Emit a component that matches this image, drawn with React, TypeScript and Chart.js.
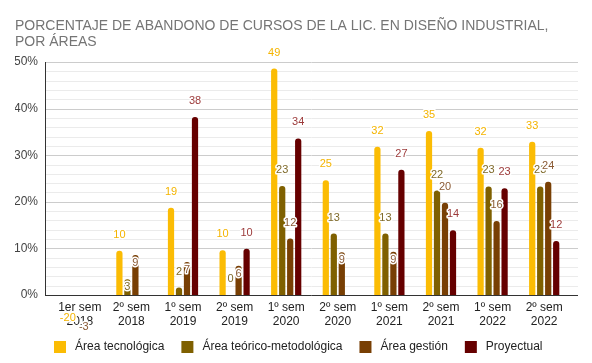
import React, { useEffect, useRef } from "react";
import { Chart, registerables } from "chart.js";

Chart.register(...registerables);

const titleLines = [
  "PORCENTAJE DE ABANDONO DE CURSOS DE LA LIC. EN DISEÑO INDUSTRIAL,",
  "POR ÁREAS",
];

const categories = [
  ["1er sem", "2018"],
  ["2º sem", "2018"],
  ["1º sem", "2019"],
  ["2º sem", "2019"],
  ["1º sem", "2020"],
  ["2º sem", "2020"],
  ["1º sem", "2021"],
  ["2º sem", "2021"],
  ["1º sem", "2022"],
  ["2º sem", "2022"],
];

const seriesNames = [
  "Área tecnológica",
  "Área teórico-metodológica",
  "Área gestión",
  "Proyectual",
];

const areaTecnologica = [-20, 9.5, 18.7, 9.6, 48.6, 24.6, 31.8, 35.2, 31.6, 32.9];
const areaTeorico = [null, 3.4, 1.6, 0, 23.4, 13.2, 13.2, 22.4, 23.3, 23.3];
const areaGestion = [-3, 8.6, 7.1, 6.3, 12.1, 9.2, 9.3, 19.8, 15.9, 24.3];
const proyectual = [null, null, 38.2, 9.9, 33.6, null, 26.9, 13.9, 22.9, 11.6];

const yTickValues = { min: 0, max: 50, step: 2, major: 10 };

const barColors = ["#fbbc04", "#7f6000", "#783f04", "#660000"];
const labelColors = ["#f4b400", "#7f6a2a", "#8a5a34", "#9c3a3a"];
// labels that sit inside the top of their bar (series-category)
const insideLabels = ["1-1", "2-1", "2-2", "2-3", "2-5", "2-6"];

const FONT = "Arial, 'Liberation Sans', sans-serif";

export default function App() {
  const ref = useRef<HTMLCanvasElement>(null);

  useEffect(() => {
    if (!ref.current) return;

    const gridPlugin = {
      id: "gridExt",
      beforeDatasetsDraw(chart: any) {
        const { ctx, chartArea, scales } = chart;
        const y = scales.y;
        const l = chartArea.left - 9;
        const r = chartArea.right + 8;
        ctx.save();
        ctx.lineWidth = 1;
        y.ticks.forEach((t: any) => {
          const py = Math.round(y.getPixelForValue(t.value)) + 0.5;
          ctx.strokeStyle = t.value % yTickValues.major === 0 ? "#cccccc" : "#ebebeb";
          ctx.beginPath();
          ctx.moveTo(l, py);
          ctx.lineTo(r, py);
          ctx.stroke();
        });
        ctx.restore();
      },
      afterDatasetsDraw(chart: any) {
        const { ctx, chartArea, scales } = chart;
        const y = scales.y;
        const l = chartArea.left - 9;
        const r = chartArea.right + 8;
        const by = Math.round(y.getPixelForValue(0)) + 0.5;
        const ty = Math.round(y.getPixelForValue(yTickValues.max));
        ctx.save();
        ctx.lineWidth = 1;
        ctx.strokeStyle = "#333333";
        ctx.beginPath();
        ctx.moveTo(l, by);
        ctx.lineTo(r, by);
        ctx.stroke();
        ctx.beginPath();
        ctx.moveTo(l + 0.5, ty);
        ctx.lineTo(l + 0.5, by);
        ctx.stroke();
        ctx.restore();
      },
      afterDraw(chart: any) {
        const { ctx, chartArea } = chart;
        ctx.save();
        // data labels
        ctx.font = `11px ${FONT}`;
        ctx.textAlign = "center";
        ctx.textBaseline = "middle";
        ctx.lineJoin = "round";
        chart.data.datasets.forEach((ds: any, i: number) => {
          const meta = chart.getDatasetMeta(i);
          ds.data.forEach((v: any, j: number) => {
            if (v === null || v === undefined) return;
            const el = meta.data[j];
            let ly: number;
            if (v < 0) ly = chartArea.bottom + 23 + 4.5 * i;
            else if (insideLabels.includes(i + "-" + j)) ly = el.y + 8;
            else ly = el.y - 16;
            const txt = String(Math.round(v));
            ctx.strokeStyle = "#ffffff";
            ctx.lineWidth = 3;
            ctx.strokeText(txt, el.x, ly);
            ctx.fillStyle = labelColors[i];
            ctx.fillText(txt, el.x, ly);
          });
        });
        // legend
        ctx.font = `12px ${FONT}`;
        ctx.textAlign = "left";
        const items = chart.data.datasets.map((ds: any, i: number) => ({
          text: ds.label,
          color: barColors[i],
          w: ctx.measureText(ds.label).width,
        }));
        const total =
          items.reduce((s: number, it: any) => s + 21 + it.w, 0) + 17 * (items.length - 1);
        let x = Math.round((chart.width - total) / 2) + 2;
        const cy = chart.height - 16;
        items.forEach((it: any) => {
          ctx.fillStyle = it.color;
          ctx.fillRect(x, cy - 6, 12, 12);
          ctx.fillStyle = "#222222";
          ctx.fillText(it.text, x + 21, cy);
          x += 21 + it.w + 17;
        });
        ctx.restore();
      },
    };

    const seriesData = [areaTecnologica, areaTeorico, areaGestion, proyectual];

    const chart = new Chart(ref.current, {
      type: "bar",
      data: {
        labels: categories,
        datasets: seriesData.map((d, i) => ({
          label: seriesNames[i],
          data: d,
          backgroundColor: barColors[i],
          borderRadius: 3,
          barPercentage: 0.78,
          categoryPercentage: 0.62,
          clip: 0,
        })),
      },
      options: {
        responsive: false,
        animation: false,
        devicePixelRatio: 1,
        layout: { padding: { left: 15, right: 22, top: 0, bottom: 28 } },
        plugins: {
          legend: { display: false },
          tooltip: { enabled: false },
          title: {
            display: true,
            text: titleLines,
            align: "start",
            color: "#757575",
            font: { size: 14, family: FONT, weight: "normal", lineHeight: 16 / 14 },
            padding: { top: 18, bottom: 12 },
          },
        },
        scales: {
          x: {
            grid: { display: false, drawTicks: false },
            border: { display: false },
            ticks: {
              color: "#222222",
              font: { size: 12, family: FONT, lineHeight: 14 / 12 },
              padding: 6,
              maxRotation: 0,
              autoSkip: false,
            },
            afterFit: (s: any) => {
              s.height = 40;
            },
          },
          y: {
            min: yTickValues.min,
            max: yTickValues.max,
            grid: { display: false, drawTicks: false },
            border: { display: false },
            ticks: {
              stepSize: yTickValues.step,
              autoSkip: false,
              padding: 16,
              color: "#444444",
              font: { size: 12, family: FONT },
              callback: (v: any) => (v % yTickValues.major === 0 ? v + "%" : ""),
            },
            afterFit: (s: any) => {
              s.width = 39;
            },
          },
        },
      },
      plugins: [gridPlugin],
    } as any);

    return () => chart.destroy();
  }, []);

  return (
    <div style={{ position: "fixed", left: 0, top: 0, width: 592, height: 363, background: "#fff" }}>
      <canvas ref={ref} width={592} height={363} style={{ display: "block" }} />
    </div>
  );
}
